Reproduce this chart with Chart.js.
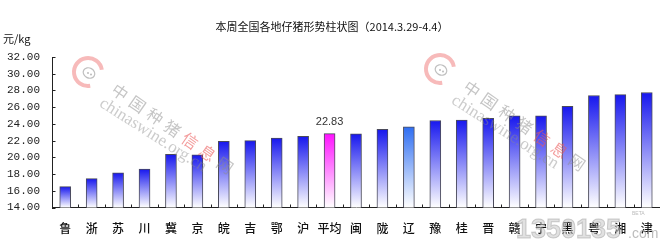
<!DOCTYPE html>
<html>
<head>
<meta charset="utf-8">
<script src="https://cdn.jsdelivr.net/npm/chart.js@4"></script>
<style>
  html, body { margin: 0; padding: 0; background: #ffffff; }
  #wrap { width: 660px; height: 241px; }
</style>
</head>
<body>
<div id="wrap"><canvas id="c" width="660" height="241"></canvas></div>
<script>
// 仔猪价格（元/kg），按地区排列
const provinces = ['鲁','浙','苏','川','冀','京','皖','吉','鄂','沪','平均','闽','陇','辽','豫','桂','晋','赣','宁','黑','粤','湘','津'];
const prices = [16.50, 17.45, 18.15, 18.60, 20.35, 20.30, 21.90, 22.00, 22.30, 22.50, 22.83, 22.80, 23.35, 23.65, 24.40, 24.45, 24.65, 24.95, 24.95, 26.10, 27.40, 27.50, 27.75];
const yTickValues = [14, 16, 18, 20, 22, 24, 26, 28, 30, 32];
const averageName = '平均';
const highlightName = '辽';
const titleText = '本周全国各地仔猪形势柱状图（2014.3.29-4.4）';
const unitText = '元/kg';

const CJK = "'Noto Sans CJK SC', 'Noto Sans', sans-serif";

function topTone(name) {
  if (name === averageName) return '#ff12ff';
  if (name === highlightName) return '#2f6ef2';
  return '#1717ee';
}

function barFill(context) {
  const chart = context.chart;
  const area = chart.chartArea;
  const name = provinces[context.dataIndex];
  const tone = topTone(name);
  if (!area) return tone;
  const v = prices[context.dataIndex];
  const yTop = chart.scales.y.getPixelForValue(v);
  const g = chart.ctx.createLinearGradient(0, yTop, 0, area.bottom);
  g.addColorStop(0, tone);
  g.addColorStop(1, '#ffffff');
  return g;
}

// 标题、单位、内刻度线与均值标注
const decorPlugin = {
  id: 'decor',
  afterDraw(chart) {
    const ctx = chart.ctx;
    const area = chart.chartArea;
    const xs = chart.scales.x;
    const ys = chart.scales.y;
    ctx.save();
    ctx.fillStyle = '#111';
    ctx.font = '11px ' + CJK;
    ctx.textAlign = 'center';
    ctx.textBaseline = 'middle';
    ctx.fillText(titleText, 332, 27);
    ctx.textAlign = 'left';
    ctx.fillText(unitText, 3, 39);

    // inside ticks
    ctx.strokeStyle = '#222';
    ctx.lineWidth = 1;
    ctx.beginPath();
    ys.ticks.forEach(t => {
      const y = Math.round(ys.getPixelForValue(t.value)) + 0.5;
      ctx.moveTo(area.left, y);
      ctx.lineTo(area.left + 3.5, y);
    });
    const half = (xs.getPixelForValue(1) - xs.getPixelForValue(0)) / 2;
    for (let i = 1; i < provinces.length; i++) {
      const x = Math.round(xs.getPixelForValue(i) - half) + 0.5;
      ctx.moveTo(x, area.bottom);
      ctx.lineTo(x, area.bottom - 3);
    }
    ctx.stroke();

    // value label for the average bar
    const idx = provinces.indexOf(averageName);
    const bar = chart.getDatasetMeta(0).data[idx];
    ctx.fillStyle = '#333';
    ctx.font = '11px "Liberation Sans", Arial, sans-serif';
    ctx.textAlign = 'center';
    ctx.textBaseline = 'bottom';
    ctx.fillText(prices[idx].toFixed(2), bar.x, bar.y - 6);
    ctx.restore();
  }
};

// 网站水印
function drawSiteMark(ctx, ox, oy) {
  ctx.save();
  ctx.translate(ox, oy);
  ctx.strokeStyle = 'rgba(240,130,130,0.55)';
  ctx.lineWidth = 4;
  ctx.beginPath();
  ctx.arc(88, 72, 14, 0.45 * Math.PI, 1.95 * Math.PI);
  ctx.stroke();
  ctx.strokeStyle = 'rgba(150,150,150,0.6)';
  ctx.lineWidth = 1.2;
  ctx.beginPath();
  ctx.ellipse(89, 73, 6, 5, 0.5, 0, Math.PI * 2);
  ctx.stroke();
  ctx.fillStyle = 'rgba(150,150,150,0.7)';
  ctx.beginPath(); ctx.arc(88, 73, 0.9, 0, Math.PI * 2); ctx.fill();
  ctx.beginPath(); ctx.arc(91, 74.5, 0.9, 0, Math.PI * 2); ctx.fill();

  const chars = ['中','国','种','猪','信','息','网'];
  const ang = 34.8 * Math.PI / 180;
  ctx.font = '16px ' + CJK;
  ctx.textAlign = 'center';
  ctx.textBaseline = 'middle';
  chars.forEach((ch, i) => {
    const x = 120 + i * 17.5;
    const y = 92 + i * 12.2;
    ctx.save();
    ctx.translate(x, y);
    ctx.rotate(ang);
    ctx.fillStyle = (i === 4 || i === 5) ? 'rgba(235,90,90,0.6)' : 'rgba(140,140,140,0.5)';
    ctx.fillText(ch, 0, 0);
    ctx.restore();
  });
  ctx.save();
  ctx.translate(101, 102);
  ctx.rotate(32.5 * Math.PI / 180);
  ctx.font = '17px "Liberation Serif", serif';
  ctx.textAlign = 'left';
  ctx.textBaseline = 'middle';
  ctx.fillStyle = 'rgba(140,140,140,0.45)';
  ctx.fillText('chinaswine.org.cn', 0, 0);
  ctx.restore();
  ctx.restore();
}

const markPlugin = {
  id: 'sitemark',
  afterDatasetsDraw(chart) {
    const ctx = chart.ctx;
    drawSiteMark(ctx, 0, 0);
    drawSiteMark(ctx, 352, -3);
  },
  afterDraw(chart) {
    const ctx = chart.ctx;
    ctx.save();
    ctx.font = 'bold 27px "Liberation Sans", Arial, sans-serif';
    ctx.textAlign = 'left';
    ctx.textBaseline = 'alphabetic';
    ctx.fillStyle = 'rgba(200,200,200,0.55)';
    ctx.strokeStyle = 'rgba(150,150,150,0.45)';
    ctx.lineWidth = 1;
    ctx.fillText('1350135', 516, 238);
    ctx.strokeText('1350135', 516, 238);
    ctx.font = '14px "Liberation Sans", Arial, sans-serif';
    ctx.fillStyle = 'rgba(160,160,160,0.7)';
    ctx.fillText('.com', 628, 238);
    ctx.font = '5px "Liberation Sans", Arial, sans-serif';
    ctx.fillText('BETA', 632, 215);
    ctx.restore();
  }
};

new Chart(document.getElementById('c'), {
  type: 'bar',
  data: {
    labels: provinces,
    datasets: [{
      data: prices,
      backgroundColor: barFill,
      borderColor: '#4a4a5a',
      borderWidth: 1,
      barThickness: 11
    }]
  },
  options: {
    responsive: false,
    devicePixelRatio: 1,
    animation: false,
    layout: { padding: { top: 57, left: 0, right: 0, bottom: 0 } },
    plugins: {
      legend: { display: false },
      tooltip: { enabled: false },
      title: { display: false }
    },
    scales: {
      x: {
        offset: true,
        grid: { display: false },
        border: { display: true, color: '#222', width: 1 },
        ticks: {
          autoSkip: false,
          maxRotation: 0,
          padding: 6,
          color: '#111',
          font: { family: CJK, size: 12, weight: '500' }
        },
        afterFit(scale) { scale.height = 33.5; }
      },
      y: {
        min: 14,
        max: 32,
        afterBuildTicks(scale) { scale.ticks = yTickValues.map(v => ({ value: v })); },
        grid: { drawOnChartArea: false, drawTicks: false },
        border: { display: true, color: '#222', width: 1 },
        ticks: {
          padding: 12,
          color: '#222',
          font: { family: '"Liberation Mono", monospace', size: 11 },
          callback: v => Number(v).toFixed(2)
        },
        afterFit(scale) { scale.width = 52; }
      }
    }
  },
  plugins: [decorPlugin, markPlugin]
});
</script>
</body>
</html>
